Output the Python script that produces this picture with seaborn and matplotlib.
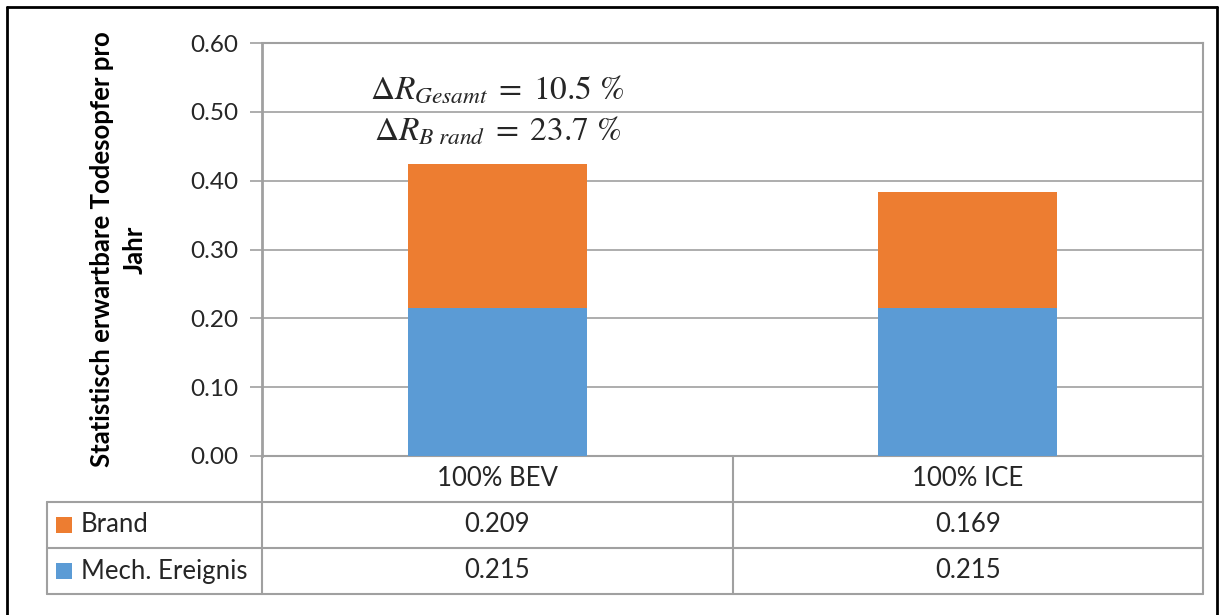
# Gestapeltes Balkendiagramm mit Datentabelle (BEV vs. ICE)
import pandas as pd
import matplotlib.pyplot as plt
import seaborn as sns

# Daten
kategorien = ['100% BEV', '100% ICE']
brand = [0.209, 0.169]
mech_ereignis = [0.215, 0.215]
serien_namen = ['Brand', 'Mech. Ereignis']
delta_texte = [r'$\Delta R_{Gesamt}\;=\;10.5\ \%$', r'$\Delta R_{B\ rand}\;=\;23.7\ \%$']
y_ticks = [0.0, 0.1, 0.2, 0.3, 0.4, 0.5, 0.6]

df = pd.DataFrame({'kategorie': kategorien, 'Brand': brand, 'Mech. Ereignis': mech_ereignis})
df['gesamt'] = df['Brand'] + df['Mech. Ereignis']

ORANGE = '#ED7D31'
BLAU = '#5B9BD5'
GRAU = '#A0A0A0'
farben = {'Brand': ORANGE, 'Mech. Ereignis': BLAU}

sns.set_theme(style='white')
plt.rcParams['font.family'] = ['Lato', 'DejaVu Sans']
plt.rcParams['mathtext.fontset'] = 'stix'

W, H = 1219, 615
fig = plt.figure(figsize=(W / 100, H / 100), dpi=100)

# Plotbereich in Pixeln
links, rechts, oben, unten = 262, 1203, 43, 456
ax = fig.add_axes([links / W, 1 - unten / H, (rechts - links) / W, (unten - oben) / H])

# Gestapelte Balken: erst Gesamt (orange), dann unterer Teil (blau)
sns.barplot(data=df, x='kategorie', y='gesamt', color=ORANGE, saturation=1,
            width=0.38, linewidth=0, ax=ax, zorder=3)
sns.barplot(data=df, x='kategorie', y='Mech. Ereignis', color=BLAU, saturation=1,
            width=0.38, linewidth=0, ax=ax, zorder=3)

ax.set_xlim(-0.5, len(kategorien) - 0.5)
ax.set_ylim(0, 0.6)
ax.set_yticks(y_ticks)
ax.set_yticklabels([f'{t:.2f}' for t in y_ticks], fontsize=17.5, color='#262626')
ax.set_xticks([])
ax.set_xlabel('')
ax.yaxis.grid(True, color=GRAU, lw=1.2, zorder=0)
ax.tick_params(axis='y', left=True, length=9, width=1.2, color=GRAU, direction='out', pad=8)
for s in ax.spines.values():
    s.set_color(GRAU)
    s.set_linewidth(1.5)
ax.spines['left'].set_linewidth(2)

ax.set_ylabel('Statistisch erwartbare Todesopfer pro\nJahr', fontsize=18.5, fontweight='bold',
              color='black', linespacing=1.4)
ax.yaxis.set_label_coords(-0.123, 0.5)

# Delta-Annotation ueber dem BEV-Balken
ax.text(0, 0.533, delta_texte[0], ha='center', va='center', fontsize=24, zorder=4)
ax.text(0, 0.472, delta_texte[1], ha='center', va='center', fontsize=24, zorder=4)

# Datentabelle unterhalb (Pixelkoordinaten)
tab = fig.add_axes([0, 0, 1, 1], zorder=5)
tab.set_xlim(0, W)
tab.set_ylim(H, 0)
tab.axis('off')
tab.patch.set_alpha(0)

tab_links = 47
zeilen_y = [unten, 502, 548, 594]
mitte = (links + rechts) / 2
linie = dict(color=GRAU, lw=1.5)
for y in zeilen_y[1:]:
    tab.plot([tab_links, rechts], [y, y], **linie)
for x in [links, mitte, rechts]:
    tab.plot([x, x], [unten, zeilen_y[-1]], **linie)
tab.plot([tab_links, tab_links], [zeilen_y[1], zeilen_y[-1]], **linie)

spalten_x = [links + (rechts - links) * (i + 0.5) / len(kategorien) for i in range(len(kategorien))]
for x, k in zip(spalten_x, kategorien):
    tab.text(x, (zeilen_y[0] + zeilen_y[1]) / 2, k, ha='center', va='center', fontsize=18.5)

for r, (name, werte) in enumerate(zip(serien_namen, [brand, mech_ereignis])):
    yc = (zeilen_y[r + 1] + zeilen_y[r + 2]) / 2
    tab.add_patch(plt.Rectangle((56, yc - 8), 16, 16, color=farben[name], lw=0))
    tab.text(81, yc, name, ha='left', va='center', fontsize=18.5)
    for x, v in zip(spalten_x, werte):
        tab.text(x, yc, f'{v:.3f}', ha='center', va='center', fontsize=18.5)

# Aeusserer Rahmen
rahmen = dict(color='black', lw=2)
tab.plot([7, 7], [7, H], **rahmen)
tab.plot([7, 1217], [7, 7], **rahmen)
tab.plot([1217, 1217], [7, H], **rahmen)

plt.savefig('out.png', dpi=100)
plt.close()
